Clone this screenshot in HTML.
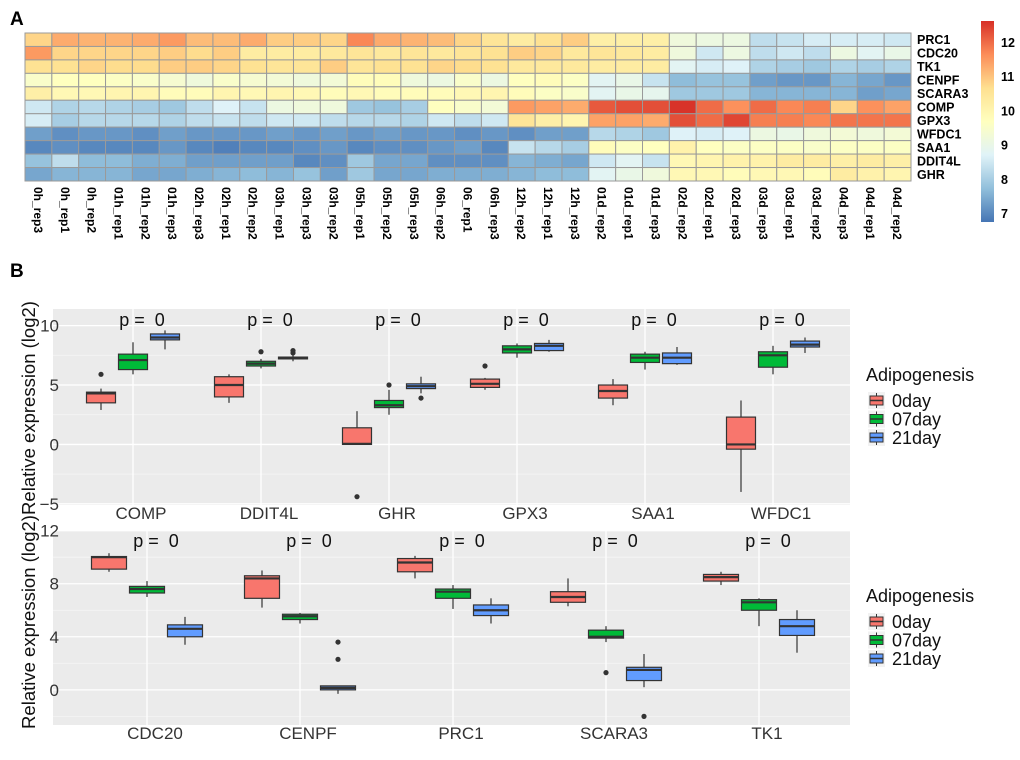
<!DOCTYPE html>
<html><head><meta charset="utf-8"><style>
body{margin:0;background:#fff;}
svg{display:block;font-family:"Liberation Sans",Arial,sans-serif;}
</style></head><body>
<svg id="fig" width="1020" height="760" viewBox="0 0 1020 760" xmlns="http://www.w3.org/2000/svg">
<text x="10" y="25" font-size="19" font-weight="bold">A</text>
<text x="10" y="277" font-size="19" font-weight="bold">B</text>
<g id="heat"></g>
<g id="cbar"></g>
<g id="box1"></g>
<g id="box2"></g>
</svg>
<script>
// ---- Heatmap data ----
const heatSamples = ["0h_rep3","0h_rep1","0h_rep2","01h_rep1","01h_rep2","01h_rep3","02h_rep3","02h_rep1","02h_rep2","03h_rep1","03h_rep3","03h_rep2","05h_rep1","05h_rep2","05h_rep3","06h_rep2","06_rep1","06h_rep3","12h_rep2","12h_rep1","12h_rep3","01d_rep2","01d_rep1","01d_rep3","02d_rep2","02d_rep1","02d_rep3","03d_rep3","03d_rep1","03d_rep2","04d_rep3","04d_rep1","04d_rep2"];
const heatGenes = ["PRC1","CDC20","TK1","CENPF","SCARA3","COMP","GPX3","WFDC1","SAA1","DDIT4L","GHR"];
const rowPRC1 = [10.8,11.3,11.2,11.2,11.3,11.5,11.1,11.1,11.3,10.9,10.9,10.8,11.7,11.3,11.2,11.1,10.8,10.5,10.3,10.6,10.9,10.2,10.2,10.2,9.2,9.1,9.1,8.3,8.4,8.6,8.6,8.6,8.5];
const rowCDC20 = [11.5,10.8,10.8,10.8,10.8,10.9,10.7,10.9,10.3,10.3,10.3,10.4,10.5,10.4,10.5,10.4,10.5,10.6,10.9,10.8,10.4,10.5,10.4,10.3,9.2,8.5,9.1,8.3,8.5,8.3,9.1,8.8,9.0];
const rowTK1 = [10.6,10.6,10.8,10.7,10.7,10.9,10.9,10.8,10.6,10.5,10.5,10.9,10.5,10.6,10.6,10.8,10.7,10.6,10.4,10.4,10.4,10.3,10.3,10.3,8.8,8.6,8.7,8.1,8.0,7.9,8.1,8.0,8.1];
const rowCENPF = [9.5,9.7,9.7,9.6,9.5,9.4,9.2,9.5,9.4,9.3,9.2,9.3,9.8,9.8,9.2,9.1,9.5,9.1,9.7,9.8,9.6,8.8,9.0,8.4,7.7,7.8,7.8,7.3,7.2,7.2,7.6,7.4,7.2];
const rowSCARA3 = [10.2,9.9,9.9,10.0,10.0,9.8,9.8,10.0,9.9,10.0,9.9,9.8,9.9,9.8,9.8,9.8,9.9,10.0,9.8,9.6,9.5,8.8,9.0,8.9,7.9,7.9,7.9,7.6,7.6,7.6,7.6,7.3,7.4];
const rowCOMP = [8.5,8.1,8.2,8.1,8.0,7.9,8.3,8.7,8.4,9.1,9.2,9.2,7.9,7.8,8.0,9.7,9.5,9.3,11.5,11.4,11.3,12.2,12.3,12.3,12.6,12.0,11.6,12.0,11.7,11.8,10.8,11.6,11.4];
const rowGPX3 = [8.6,8.0,8.2,8.2,8.2,8.1,8.3,8.4,8.3,8.5,8.5,8.3,8.2,8.2,8.1,8.5,8.3,8.5,10.5,10.2,10.0,11.4,11.4,11.3,12.3,12.0,12.4,11.8,11.8,11.7,11.9,11.9,11.9];
const rowWFDC1 = [7.3,7.1,7.2,7.2,7.1,7.3,7.2,7.2,7.2,7.3,7.2,7.3,7.2,7.3,7.2,7.2,7.1,7.2,7.1,7.3,7.3,8.2,8.1,7.9,8.7,8.6,8.7,9.1,9.0,9.2,9.3,9.2,9.3];
const rowSAA1 = [7.0,7.1,7.0,7.0,7.0,7.2,7.0,6.9,7.0,7.0,7.1,7.2,7.0,7.1,7.1,7.2,7.3,7.0,8.4,8.2,8.0,9.8,9.6,9.7,10.1,9.7,9.6,9.6,9.6,9.5,9.6,9.6,9.6];
const rowDDIT4L = [7.8,8.3,7.7,7.7,7.5,7.5,7.3,7.3,7.3,7.3,7.0,7.1,7.9,7.4,7.4,7.1,7.1,7.1,7.6,7.5,7.4,8.5,8.8,8.4,9.9,10.0,10.1,10.1,10.3,10.3,10.2,10.3,10.2];
const rowGHR = [7.4,7.6,7.6,7.6,7.4,7.4,7.5,7.6,7.7,7.6,7.8,7.3,7.9,7.4,7.4,7.5,7.5,7.5,7.6,7.7,7.7,8.8,9.0,9.2,9.9,9.9,9.8,9.9,9.9,9.8,10.3,10.1,10.0];
const heatRows = [rowPRC1,rowCDC20,rowTK1,rowCENPF,rowSCARA3,rowCOMP,rowGPX3,rowWFDC1,rowSAA1,rowDDIT4L,rowGHR];
const cbarTicks = [7,8,9,10,11,12];

// ---- Boxplot data (top) [whiskLo, q1, median, q3, whiskHi] ----
const topGenes = ["COMP","DDIT4L","GHR","GPX3","SAA1","WFDC1"];
const topDay0 = [[2.9,3.5,4.3,4.4,4.7],[3.5,4.0,5.0,5.7,5.9],[0.0,0.0,0.05,1.4,2.8],[4.6,4.8,5.1,5.5,5.6],[3.3,3.9,4.5,5.0,5.5],[-4.0,-0.4,0.0,2.3,3.7]];
const topDay7 = [[5.9,6.3,7.1,7.6,8.6],[6.4,6.6,6.8,7.0,7.2],[2.5,3.1,3.3,3.7,4.6],[7.3,7.7,8.0,8.3,8.5],[6.3,6.9,7.3,7.6,7.8],[5.9,6.5,7.5,7.8,8.3]];
const topDay21 = [[8.0,8.8,9.0,9.3,9.6],[7.0,7.2,7.3,7.35,7.5],[4.3,4.7,4.9,5.1,5.7],[7.8,7.9,8.3,8.5,8.8],[6.7,6.8,7.3,7.7,8.2],[7.7,8.2,8.4,8.7,9.0]];
const topOut0 = [[5.9],[],[-4.4],[6.6],[],[]];
const topOut7 = [[],[7.8],[5.0],[],[],[]];
const topOut21 = [[],[7.7,7.9],[3.9],[],[],[]];
const topTicks = [-5,0,5,10];

// ---- Boxplot data (bottom) ----
const botGenes = ["CDC20","CENPF","PRC1","SCARA3","TK1"];
const botDay0 = [[8.9,9.1,10.0,10.05,10.3],[6.2,6.9,8.4,8.6,9.0],[8.4,8.9,9.6,9.9,10.1],[6.3,6.6,7.0,7.4,8.4],[7.9,8.2,8.5,8.7,8.9]];
const botDay7 = [[7.0,7.3,7.6,7.8,8.2],[5.0,5.3,5.55,5.7,5.8],[6.1,6.9,7.4,7.6,7.9],[3.6,3.9,4.0,4.5,4.8],[4.8,6.0,6.6,6.8,6.9]];
const botDay21 = [[3.4,4.0,4.6,4.9,5.5],[-0.3,0.0,0.15,0.3,0.3],[5.0,5.6,6.0,6.4,6.9],[0.2,0.7,1.5,1.7,2.7],[2.8,4.1,4.8,5.3,6.0]];
const botOut0 = [[],[],[],[],[]];
const botOut7 = [[],[],[],[1.3],[]];
const botOut21 = [[],[2.3,3.6],[],[-2.0],[]];
const botTicks = [0,4,8,12];

const groupNames = ["0day","07day","21day"];
const NS = "http://www.w3.org/2000/svg";
function mk(parent, tag, attrs, text){
  const e = document.createElementNS(NS, tag);
  for (const k in attrs) e.setAttribute(k, attrs[k]);
  if (text !== undefined) e.textContent = text;
  parent.appendChild(e);
  return e;
}
const pal = ["#4575B4","#91BFDB","#E0F3F8","#FFFFBF","#FEE090","#FC8D59","#D73027"];
const vMin = 6.75, vMax = 12.63;
function hex2rgb(h){return [1,3,5].map(i=>parseInt(h.substr(i,2),16));}
function colorOf(v){
  let t = (v - vMin)/(vMax - vMin); t = Math.max(0, Math.min(1, t));
  const p = t*(pal.length-1); const i = Math.min(Math.floor(p), pal.length-2); const f = p - i;
  const a = hex2rgb(pal[i]), b = hex2rgb(pal[i+1]);
  return "rgb(" + a.map((c,k)=>Math.round(c+(b[k]-c)*f)).join(",") + ")";
}

(function(){
  const g = document.getElementById("heat");
  const x0 = 25, y0 = 33, cw = (911-25)/heatSamples.length, rh = (181-33)/heatGenes.length;
  heatRows.forEach((row, r) => {
    row.forEach((v, c) => {
      const rect = mk(g, "rect", {x: x0+c*cw, y: y0+r*rh, width: cw, height: rh, fill: colorOf(v), stroke: "#9a9a9a", "stroke-width": 1});
      
      
    });
    const t = mk(g, "text", {x: 917, y: y0 + r*rh + rh/2 + 4.5, "font-size": 12.5, "font-weight": "bold"}, heatGenes[r]);
    
    
  });
  heatSamples.forEach((s, c) => {
    const cx = x0 + c*cw + cw/2 - 4.5;
    const t = mk(g, "text", {x: cx, y: 187, "font-size": 12, "font-weight": "bold", transform: "rotate(90 " + cx + " 187)"}, s);
    
    
  });
  const cb = document.getElementById("cbar");
  const top = 21, bot = 222;
  const vy = v => 213.5 - (v - 7) * 34.2;
  const defs = mk(cb, "defs", {});
  const lg = mk(defs, "linearGradient", {id: "cbg", gradientUnits: "userSpaceOnUse", x1: 0, x2: 0, y1: vy(vMin), y2: vy(vMax)});
  pal.forEach((c, i) => mk(lg, "stop", {offset: (i/(pal.length-1)), "stop-color": c}));
  const r = mk(cb, "rect", {x: 981, y: top, width: 13, height: bot-top, fill: "url(#cbg)"});
  
  
  cbarTicks.forEach(v => {
    const t = mk(cb, "text", {x: 1001, y: vy(v)+4.5, "font-size": 12.5, "font-weight": "bold"}, String(v));
    
    
  });
})();

const fills = ["#F8766D","#00BA38","#619CFF"];
function drawBox(gid, cfg){
  const g = document.getElementById(gid);
  const {L, R, T, B, yMin, yMax, cats, cat0, catStep, off, bw, groups, outs, ticks, minors, titleY, legY} = cfg;
  const sy = v => B - (v - yMin)/(yMax - yMin)*(B - T);
  const bg = mk(g, "rect", {x: L, y: T, width: R-L, height: B-T, fill: "#EBEBEB"});
  
  
  minors.forEach(v => mk(g, "line", {x1: L, x2: R, y1: sy(v), y2: sy(v), stroke: "#F5F5F5", "stroke-width": 0.8}));
  ticks.forEach(v => mk(g, "line", {x1: L, x2: R, y1: sy(v), y2: sy(v), stroke: "#fff", "stroke-width": 1.3}));
  cats.forEach((c, i) => {
    const cx = cat0 + i*catStep;
    mk(g, "line", {x1: cx, x2: cx, y1: T, y2: B, stroke: "#fff", "stroke-width": 1.3});
  });
  cats.forEach((c, i) => {
    const cx = cat0 + i*catStep;
    groups.forEach((grp, k) => {
      const d = grp[i]; const bx = cx + (k-1)*off;
      const bg2 = mk(g, "g", {});
      
      
      mk(bg2, "line", {x1: bx, x2: bx, y1: sy(d[0]), y2: sy(d[4]), stroke: "#333", "stroke-width": 1.2});
      mk(bg2, "rect", {x: bx-bw/2, y: sy(d[3]), width: bw, height: Math.max(1, sy(d[1])-sy(d[3])), fill: fills[k], stroke: "#333", "stroke-width": 1.2});
      mk(bg2, "line", {x1: bx-bw/2, x2: bx+bw/2, y1: sy(d[2]), y2: sy(d[2]), stroke: "#333", "stroke-width": 2.2});
      outs[k][i].forEach(o => {
        const p = mk(g, "circle", {cx: bx, cy: sy(o), r: 2.6, fill: "#333"});
        
        
      });
    });
    const pl = mk(g, "text", {x: cx+9, y: T+17, "font-size": 18, "text-anchor": "middle", fill: "#111"}, "p =\u00a0\u00a00");
    
    
    const xl = mk(g, "text", {x: cx+8, y: B+14, "font-size": 17, "text-anchor": "middle", fill: "#333"}, c);
    
    
  });
  ticks.forEach(v => {
    const t = mk(g, "text", {x: 59, y: sy(v)+6, "font-size": 17, fill: "#333", "text-anchor": "end"}, String(v).replace("-", "\u2212"));
    
    
  });
  const yt = mk(g, "text", {x: 35, y: titleY, "font-size": 18.5, "text-anchor": "middle", fill: "#111", transform: "rotate(-90 35 " + titleY + ")"}, "Relative expression (log2)");
  
  
  const lt = mk(g, "text", {x: 866, y: legY, "font-size": 18, fill: "#111"}, "Adipogenesis");
  
  
  groupNames.forEach((n, k) => {
    const ly = legY + 20 + k*18.5;
    const le = mk(g, "g", {});
    
    
    mk(le, "rect", {x: 868, y: ly-9, width: 17, height: 17, fill: "#F2F2F2"});
    mk(le, "line", {x1: 876.5, x2: 876.5, y1: ly-8, y2: ly+7, stroke: "#333", "stroke-width": 1});
    mk(le, "rect", {x: 870, y: ly-5, width: 13, height: 9, fill: fills[k], stroke: "#333", "stroke-width": 1});
    mk(le, "line", {x1: 870, x2: 883, y1: ly-0.5, y2: ly-0.5, stroke: "#333", "stroke-width": 1.5});
    mk(le, "text", {x: 892, y: ly+6, "font-size": 18, fill: "#111"}, n);
  });
}
drawBox("box1", {L: 53, R: 850, T: 309, B: 505, yMin: -5.1, yMax: 11.4, cats: topGenes, cat0: 133, catStep: 128, off: 32, bw: 29,
  groups: [topDay0, topDay7, topDay21], outs: [topOut0, topOut7, topOut21], ticks: topTicks, minors: [-2.5,2.5,7.5], titleY: 408, legY: 381});
drawBox("box2", {L: 53, R: 850, T: 530, B: 725, yMin: -2.65, yMax: 12.05, cats: botGenes, cat0: 147, catStep: 153, off: 38, bw: 35,
  groups: [botDay0, botDay7, botDay21], outs: [botOut0, botOut7, botOut21], ticks: botTicks, minors: [-2,2,6,10], titleY: 622, legY: 602});
</script>
</body></html>
